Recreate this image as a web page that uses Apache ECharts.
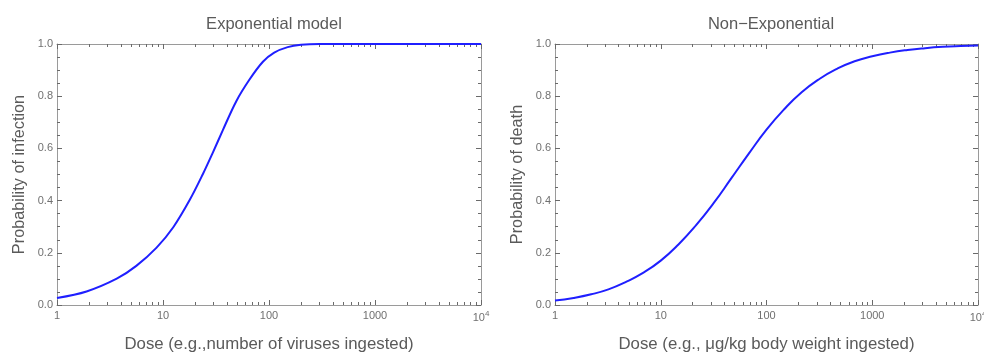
<!DOCTYPE html>
<html>
<head>
<meta charset="utf-8">
<script src="https://cdn.jsdelivr.net/npm/echarts@6/dist/echarts.min.js"></script>
<style>
html,body{margin:0;padding:0;background:#fff;}
#chart{width:984px;height:354px;}
</style>
</head>
<body>
<div id="chart"></div>
<script>
// ---- data ----
const leftTitle = 'Exponential model';
const rightTitle = 'Non\u2212Exponential';
const leftYName = 'Probability of infection';
const rightYName = 'Probability of death';
const leftXName = 'Dose (e.g.,number of viruses ingested)';
const rightXName = 'Dose (e.g., \u03bcg/kg body weight ingested)';

const xMajorTicks = [1, 10, 100, 1000, 10000];
const xMinorTicks = [2,3,4,5,6,7,8,9,20,30,40,50,60,70,80,90,200,300,400,500,600,700,800,900,2000,3000,4000,5000,6000,7000,8000,9000];
const yTickLabels = ['0.0', '0.2', '0.4', '0.6', '0.8', '1.0'];

const leftDose = [1, 1.9, 3.66, 5.6, 8.7, 12.5, 17.9, 23.8, 29.6, 36.7, 49, 65, 87.6, 112, 150, 200, 300, 1000, 10000];
const leftProb = [0.027, 0.052, 0.101, 0.150, 0.220, 0.298, 0.403, 0.502, 0.585, 0.670, 0.780, 0.862, 0.932, 0.967, 0.988, 0.997, 1.0, 1.0, 1.0];

const rightDose = [1, 1.5, 2.2, 3.2, 4.6, 6.8, 10, 14.7, 21.5, 31.6, 46.4, 68, 100, 147, 215, 316, 464, 681, 1000, 1468, 2154, 3162, 4642, 6813, 10000];
const rightProb = [0.017, 0.027, 0.041, 0.060, 0.087, 0.123, 0.170, 0.232, 0.305, 0.390, 0.485, 0.580, 0.672, 0.750, 0.815, 0.866, 0.905, 0.934, 0.953, 0.967, 0.977, 0.984, 0.989, 0.992, 0.994];

// ---- styling ----
const FONT = '"Liberation Sans", Arial, Helvetica, sans-serif';
const frameColor = '#9a9a9a';
const tickColor = '#6a6a6a';
const labelColor = '#707070';
const nameColor = '#5a5a5a';
const curveColor = '#1f1fff';

const grids = [
  {left: 57, right: 503, top: 44, bottom: 49, outerBoundsMode: 'none', containLabel: false},
  {left: 555, right: 6, top: 44, bottom: 49, outerBoundsMode: 'none', containLabel: false}
];

function xLabelFmt(v) {
  const r = Math.round(v);
  if (r === 10000) return '{b|10}{s|4}';
  return '{b|' + r + '}';
}

function xAxesFor(gi, name) {
  const base = {
    type: 'log', logBase: 10, min: 1, max: 10000, gridIndex: gi,
    splitLine: {show: false}, minorTick: {show: false}, minorSplitLine: {show: false}
  };
  return [
    Object.assign({}, base, {
      position: 'bottom',
      name: name, nameLocation: 'middle', nameGap: 31,
      nameTextStyle: {color: nameColor, fontSize: 16.8, fontFamily: FONT},
      axisLine: {show: true, onZero: false, lineStyle: {color: frameColor, width: 1}},
      axisTick: {show: true, inside: true, length: 5, customValues: xMajorTicks, lineStyle: {color: tickColor}},
      axisLabel: {show: true, margin: 5, customValues: xMajorTicks, formatter: xLabelFmt,
        rich: {
          b: {fontSize: 11, color: labelColor, fontFamily: FONT},
          s: {fontSize: 8, color: labelColor, fontFamily: FONT, verticalAlign: 'top', padding: [0, 0, 7, 0]}
        }}
    }),
    Object.assign({}, base, {
      position: 'top',
      axisLine: {show: true, onZero: false, lineStyle: {color: frameColor, width: 1}},
      axisTick: {show: true, inside: true, length: 5, customValues: xMajorTicks, lineStyle: {color: tickColor}},
      axisLabel: {show: false}
    }),
    Object.assign({}, base, {
      position: 'bottom',
      axisLine: {show: false, onZero: false},
      axisTick: {show: true, inside: true, length: 3, customValues: xMinorTicks, lineStyle: {color: tickColor}},
      axisLabel: {show: false}
    }),
    Object.assign({}, base, {
      position: 'top',
      axisLine: {show: false, onZero: false},
      axisTick: {show: true, inside: true, length: 3, customValues: xMinorTicks, lineStyle: {color: tickColor}},
      axisLabel: {show: false}
    })
  ];
}

function yAxesFor(gi, name) {
  const base = {
    type: 'value', min: 0, max: 1, interval: 0.2, gridIndex: gi,
    splitLine: {show: false},
    axisLine: {show: true, onZero: false, lineStyle: {color: frameColor, width: 1}},
    axisTick: {show: true, inside: true, length: 5, lineStyle: {color: tickColor}},
    minorTick: {show: true, splitNumber: 4, length: 3, lineStyle: {color: tickColor}},
    minorSplitLine: {show: false}
  };
  return [
    Object.assign({}, base, {
      position: 'left',
      name: name, nameLocation: 'middle', nameGap: 29,
      nameTextStyle: {color: nameColor, fontSize: 16.3, fontFamily: FONT},
      axisLabel: {show: true, margin: 4, color: labelColor, fontSize: 11, fontFamily: FONT,
        formatter: function (v) { return yTickLabels[Math.round(v / 0.2)]; }}
    }),
    Object.assign({}, base, {
      position: 'right',
      axisLabel: {show: false}
    })
  ];
}

function pairs(xs, ys) { return xs.map(function (x, i) { return [x, ys[i]]; }); }

const option = {
  backgroundColor: '#ffffff',
  animation: false,
  title: [
    {text: leftTitle, left: 269, top: 11, textAlign: 'center',
      textStyle: {color: nameColor, fontSize: 16.5, fontWeight: 'normal', fontFamily: FONT}},
    {text: rightTitle, left: 766, top: 11, textAlign: 'center',
      textStyle: {color: nameColor, fontSize: 16.5, fontWeight: 'normal', fontFamily: FONT}}
  ],
  grid: grids,
  xAxis: xAxesFor(0, leftXName).concat(xAxesFor(1, rightXName)),
  yAxis: yAxesFor(0, leftYName).concat(yAxesFor(1, rightYName)),
  series: [
    {type: 'line', xAxisIndex: 0, yAxisIndex: 0, data: pairs(leftDose, leftProb),
      smooth: 0.35, showSymbol: false, symbol: 'none',
      lineStyle: {color: curveColor, width: 2}},
    {type: 'line', xAxisIndex: 4, yAxisIndex: 2, data: pairs(rightDose, rightProb),
      smooth: 0.5, showSymbol: false, symbol: 'none',
      lineStyle: {color: curveColor, width: 2}}
  ]
};

const chart = echarts.init(document.getElementById('chart'), null, {renderer: 'canvas'});
chart.setOption(option);
</script>
</body>
</html>
